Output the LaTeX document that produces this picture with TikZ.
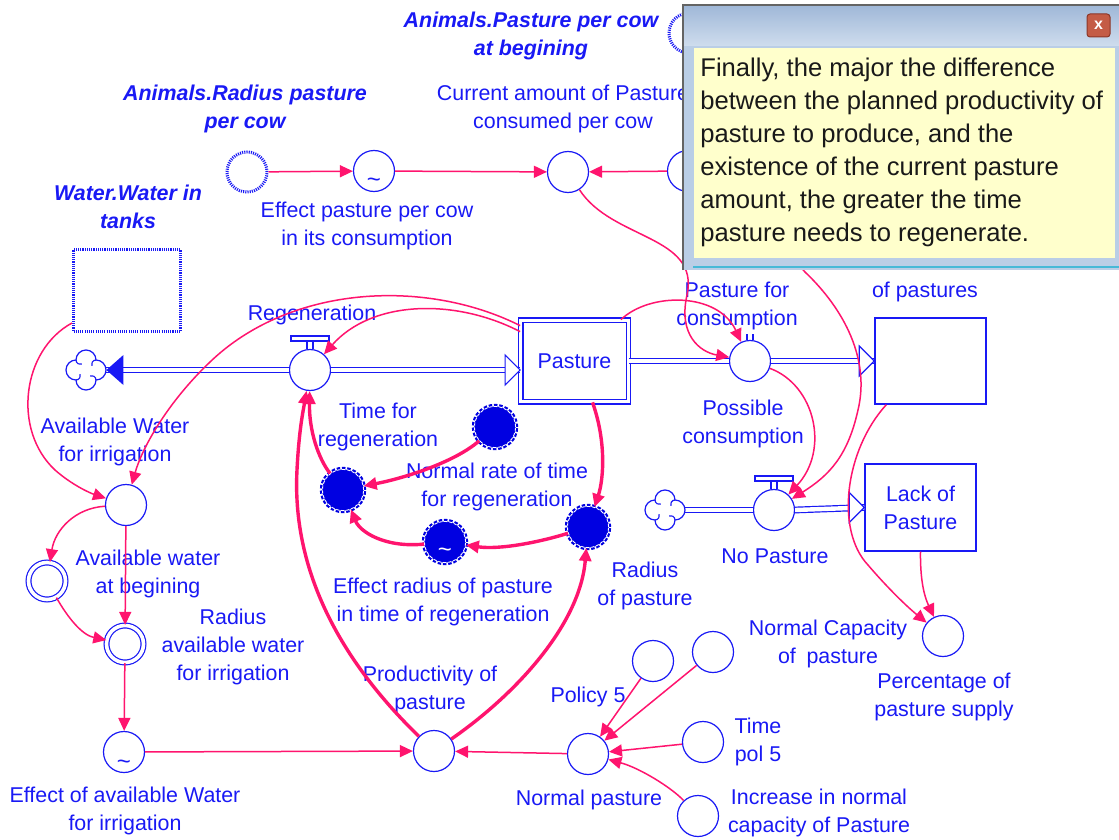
\documentclass[tikz,border=0pt]{standalone}
\usepackage{fontspec}
\setmainfont{Liberation Sans}
\usetikzlibrary{arrows.meta,calc}

\definecolor{sdblue}{RGB}{25,25,245}
\definecolor{sdfill}{RGB}{0,0,225}
\definecolor{linkpink}{RGB}{255,20,110}
\definecolor{tipframe}{RGB}{186,206,230}
\definecolor{tiptop}{RGB}{160,184,216}
\definecolor{tipyellow}{RGB}{255,255,204}
\definecolor{tipedge}{RGB}{100,100,100}
\definecolor{tipline}{RGB}{70,185,215}
\definecolor{closefill}{RGB}{196,92,70}
\definecolor{closeedge}{RGB}{140,55,40}

\tikzset{
  lbl/.style={text=sdblue, font=\fontsize{10.7}{14}\selectfont, align=center, inner sep=0pt},
  glbl/.style={lbl, font=\fontsize{10.7}{14}\selectfont\bfseries\itshape},
  aux/.style={circle, draw=sdblue, line width=0.6pt, minimum size=20.5pt, inner sep=0pt, fill=white},
  valve/.style={aux},
  dbl/.style={circle, draw=sdblue, line width=0.6pt, double=white, double distance=1.8pt,
    minimum size=18.5pt, inner sep=0pt},
  dark/.style={circle, fill=sdfill, draw=white, dash pattern=on 1.6pt off 0.9pt, line width=0.45pt,
    minimum size=20.6pt, inner sep=0pt, preaction={draw=sdfill, line width=2.6pt}},
  stockbox/.style={rectangle, draw=sdblue, line width=0.7pt, minimum width=55.5pt, minimum height=43pt,
    inner sep=0pt, text=sdblue, font=\fontsize{10.7}{14}\selectfont, align=center, fill=white},
  dstock/.style={stockbox, line width=0.6pt, double=white, double distance=1.6pt,
    minimum width=53.8pt, minimum height=40.8pt},
  ghost/.style={draw=sdblue, line width=1.5pt, dash pattern=on 0.55pt off 0.55pt},
  ghostc/.style={circle, ghost, minimum size=20pt, inner sep=0pt},
  cloudnode/.style={circle, minimum size=20pt, inner sep=0pt},
  tilde/.style={font=\fontsize{12}{12}\selectfont, inner sep=0pt},
  pipe/.style={draw=sdblue, line width=0.6pt, double=white, double distance=2.2pt},
  flowline/.style={draw=sdblue, line width=0.6pt},
  link/.style={draw=linkpink, line width=0.75pt, -{Triangle[length=6.5pt,width=6pt]}},
  tlink/.style={link, line width=1.7pt},
}

% four-lobed source/sink cloud around a named node
\newcommand\drawcloud[1]{%
  \begin{scope}[shift={(#1)}]
    \draw[flowline] (5pt,5pt) arc[start angle=0,end angle=180,radius=5pt]
          arc[start angle=90,end angle=270,radius=5pt]
          arc[start angle=180,end angle=360,radius=5pt]
          arc[start angle=-90,end angle=90,radius=5pt] -- cycle;
    \foreach \ang in {0,90,180,270}
      \draw[flowline, rotate=\ang] (5pt,5pt) arc[start angle=90,end angle=200,radius=2.2pt];
  \end{scope}}

% valve stem (length in px) above a flow node
\newcommand\valvestem[2]{%
  \draw[flowline] ([xshift=-1.5pt]#1.north) -- ++(0,-#2) ([xshift=1.5pt]#1.north) -- ++(0,-#2);}

\begin{document}
\begin{tikzpicture}[x=0.5pt,y=-0.5pt]
\useasboundingbox (0,0) rectangle (1119,840);
\fill[white] (0,0) rectangle (1119,840);

% ---------- ghost (imported) variables ----------
\node[ghostc] (ghostP) at (689,33) {};
\node[ghostc] (ghostR) at (247,172) {};
\node[ghost, rectangle, minimum width=53.5pt, minimum height=41pt, inner sep=0pt] (ghostW) at (127,290.5) {};
\node[glbl] (lghostP) at (531,35.5) {Animals.Pasture per cow\\at begining};
\node[glbl] (lghostR) at (245,108.5) {Animals.Radius pasture\\per cow};
\node[glbl] (lghostW) at (128,207) {Water.Water in\\tanks};

% ---------- top row converters ----------
\node[aux] (effpc) at (374,171) {};
\node[tilde, text=sdblue] (effpcT) at ([yshift=-6pt]effpc.center) {\textasciitilde};
\node[aux] (curam) at (568,172) {};
\node[aux] (hidc) at (688,171) {};
\node[lbl] (leffpc) at (367,226) {Effect pasture per cow\\in its consumption};
\node[lbl] (lcuram) at (563,108.5) {Current amount of Pasture\\consumed per cow};

% ---------- stocks, flows, clouds ----------
\node[dstock] (pasture) at (574.5,361) {Pasture};
\node[stockbox] (stk) at (930.5,361) {};
\node[stockbox, minimum height=43.5pt] (lack) at (920.5,507.5) {Lack of\\Pasture};
\node[valve] (reg) at (310,370) {};
\node[valve] (pfc) at (750,361) {};
\node[valve] (nop) at (774,510) {};
\node[cloudnode] (cloudL) at (86,370) {};
\node[cloudnode] (cloudR) at (665,510) {};

% pipes
\draw[pipe] (reg.west) -- (cloudL.east);
\draw[pipe] (reg.east) -- (reg.east -| pasture.west);
\draw[pipe] (pasture.east |- pfc.west) -- (pfc.west);
\draw[pipe] (pfc.east) -- (stk.west);
\draw[pipe] (cloudR.east) -- (nop.west);
\draw[pipe] (nop.east) -- (lack.west);
% flow arrowheads
\fill[sdblue] (cloudL.east) -- ++(17,-15) -- ++(0,30) -- cycle;
\draw[flowline, fill=white] (reg.east -| pasture.west) -- ++(-15,-15) -- ++(0,30) -- cycle;
\draw[flowline, fill=white] (stk.west) -- ++(-15,-15) -- ++(0,30) -- cycle;
\draw[flowline, fill=white] (lack.west) -- ++(-15,-15) -- ++(0,30) -- cycle;
\drawcloud{cloudL}
\drawcloud{cloudR}
% valve handles
\valvestem{reg}{8}
\draw[flowline, fill=white] ([shift={(-9.5pt,4pt)}]reg.north) rectangle ++(38,-5);
\valvestem{pfc}{6}
\valvestem{nop}{8}
\draw[flowline, fill=white] ([shift={(-9.5pt,4pt)}]nop.north) rectangle ++(38,-5);

\node[lbl] (lreg) at (312,315) {Regeneration};
\node[lbl] (lpfc) at (737,306) {Pasture for\\consumption};
\node[lbl] (lstk) at (925,292) {of pastures};
\node[lbl] (lposs) at (743,424) {Possible\\consumption};
\node[lbl] (lnop) at (775,556) {No Pasture};

% ---------- regeneration sector ----------
\node[dark] (nrt) at (495,427) {};
\node[dark] (tfr) at (343,490) {};
\node[dark] (erp) at (445,542) {};
\node[tilde, text=white] (erpT) at ([yshift=-5.5pt]erp.center) {\textasciitilde};
\node[dark] (rop) at (588,527) {};
\node[lbl] (ltfr) at (378,427) {Time for\\regeneration};
\node[lbl] (lnrt) at (497,487) {Normal rate of time\\for regeneration};
\node[lbl] (lerp) at (443,602) {Effect radius of pasture\\in time of regeneration};
\node[lbl] (lrop) at (645,586) {Radius\\of pasture};

% ---------- water sector ----------
\node[aux] (avw) at (126,505) {};
\node[dbl] (avb) at (47,581) {};
\node[dbl] (rav) at (125,644) {};
\node[aux] (eav) at (124,752) {};
\node[tilde, text=sdblue] (eavT) at ([yshift=-6.5pt]eav.center) {\textasciitilde};
\node[lbl] (lavw) at (115,442) {Available Water\\for irrigation};
\node[lbl] (lavb) at (148,574) {Available water\\at begining};
\node[lbl] (lrav) at (233,647) {Radius\\available water\\for irrigation};
\node[lbl] (leav) at (125,811) {Effect of available Water\\for irrigation};

% ---------- productivity sector ----------
\node[aux] (prod) at (434,751) {};
\node[aux] (np) at (588,754) {};
\node[aux] (pol) at (653,661) {};
\node[aux] (nc) at (713,652) {};
\node[aux] (t5) at (703,742) {};
\node[aux] (inc) at (698,816) {};
\node[aux] (pct) at (943,636) {};
\node[lbl] (lprod) at (430,690) {Productivity of\\pasture};
\node[lbl] (lpol) at (588,697) {Policy 5};
\node[lbl] (lnp) at (589,800) {Normal pasture};
\node[lbl] (lt5) at (758,742) {Time\\pol 5};
\node[lbl] (linc) at (819,813) {Increase in normal\\capacity of Pasture};
\node[lbl] (lnc) at (828,644) {Normal Capacity\\of\enspace pasture};
\node[lbl] (lpct) at (944,697) {Percentage of\\pasture supply};

% ---------- thin links ----------
\draw[link] (ghostR) -- (effpc);
\draw[link] (effpc) -- (curam);
\draw[link] (hidc) -- (curam);
\draw[link] (curam) .. controls (612,240) and (700,235) .. (687,295) .. controls (678,335) and (700,352) .. (pfc);
\draw[link] ([xshift=-4pt]pasture.north east) .. controls (650,292) and (718,292) .. (pfc);
\draw[link] (pfc) .. controls (815,385) and (830,450) .. (nop);
\draw[link] (hidc) .. controls (760,195) and (785,250) .. (805,272) .. controls (845,310) and (870,360) .. (858,410) .. controls (848,455) and (830,475) .. (nop);
\draw[link] ([xshift=6pt]stk.south west) .. controls (845,450) and (835,530) .. (868,565) .. controls (885,585) and (905,605) .. (pct);
\draw[link] (lack.south) .. controls (920,585) and (926,600) .. (pct);
\draw[link] ([yshift=-6pt]pasture.north west) .. controls (455,298) and (372,300) .. (reg);
\draw[link] ([yshift=-3pt]pasture.north west) .. controls (425,278) and (290,285) .. (210,362) .. controls (170,400) and (143,445) .. (avw);
\draw[link] ([yshift=5pt]ghostW.south west) .. controls (22,350) and (12,430) .. (55,470) .. controls (72,485) and (90,493) .. (avw);
\draw[link] (avw) .. controls (75,508) and (55,530) .. (avb);
\draw[link] (avw) -- (rav);
\draw[link] (avb) .. controls (68,618) and (82,635) .. (rav);
\draw[link] (rav) -- (eav);
\draw[link] (eav) -- (prod);
\draw[link] (np) -- (prod);
\draw[link] (pol) -- (np);
\draw[link] (nc) -- (np);
\draw[link] (t5) -- (np);
\draw[link] (inc) .. controls (672,788) and (640,768) .. (np);

% ---------- thick links ----------
\draw[tlink] (prod) .. controls (335,655) and (292,565) .. (297,470) .. controls (299,430) and (303,412) .. (reg);
\draw[tlink] (tfr) .. controls (318,458) and (309,430) .. (reg);
\draw[tlink] (prod) .. controls (515,695) and (580,625) .. (rop);
\draw[tlink] ([xshift=9pt]pasture.south) .. controls (606,440) and (604,478) .. (rop);
\draw[tlink] (rop) .. controls (540,542) and (500,550) .. (erp);
\draw[tlink] (erp) .. controls (385,548) and (360,532) .. (tfr);
\draw[tlink] (nrt) .. controls (455,462) and (405,478) .. (tfr);

% ---------- note window ----------
\fill[tipframe] (683,5) rectangle (1119,270);
\shade[top color=tiptop, bottom color=tipframe!70!white] (684,6) rectangle (1119,46);
\fill[tipyellow] (694,48) rectangle (1115,258);
\draw[tipedge, line width=0.6pt] (683,270) -- (683,5) -- (1119,5);
\draw[tipline, line width=0.8pt] (693,267) -- (1119,267);
\node[rounded corners=1.5pt, fill=closefill, draw=closeedge, line width=0.5pt, minimum width=11.5pt,
  minimum height=11.5pt, inner sep=0pt, text=white, font=\fontsize{8}{8}\selectfont\bfseries] (closebtn) at (1098.5,25.5) {x};
\node[anchor=north west, inner sep=0pt, align=left, font=\fontsize{12.8}{16.5}\selectfont, text=black!90] (notetext) at (700,58)
  {Finally, the major the difference\\between the planned productivity of\\pasture to produce, and the\\existence of the current pasture\\amount, the greater the time\\pasture needs to regenerate.};
\end{tikzpicture}
\end{document}
